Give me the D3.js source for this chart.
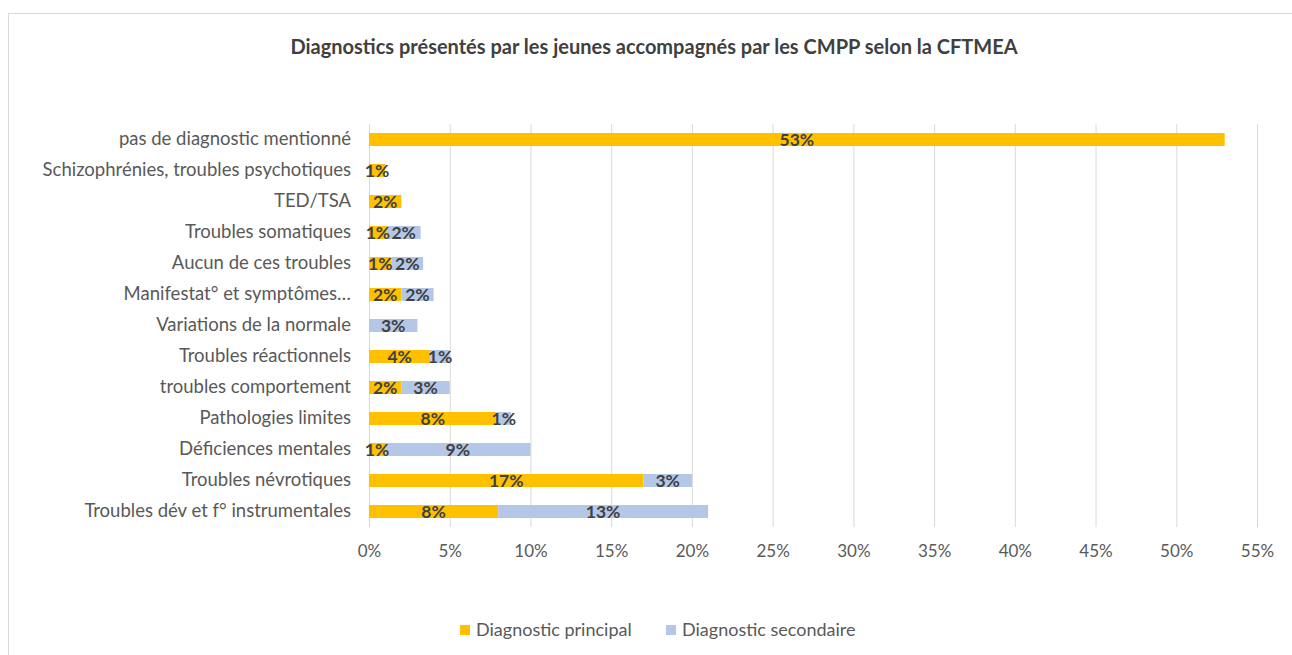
<!DOCTYPE html>
<html>
<head>
<meta charset="utf-8">
<script src="https://cdn.jsdelivr.net/npm/d3@7"></script>
<style>
  body { margin: 0; background: #fff; }
  svg { display: block; font-family: Lato, "Open Sans", sans-serif; }
</style>
</head>
<body>
<svg id="chart" width="1292" height="655"></svg>
<script>
// categories, top to bottom
const categories = [
  "pas de diagnostic mentionné",
  "Schizophrénies, troubles psychotiques",
  "TED/TSA",
  "Troubles somatiques",
  "Aucun de ces troubles",
  "Manifestat° et symptômes…",
  "Variations de la normale",
  "Troubles réactionnels",
  "troubles comportement",
  "Pathologies limites",
  "Déficiences mentales",
  "Troubles névrotiques",
  "Troubles dév et f° instrumentales"
];
// values in %
const principal = [53, 1.0, 2.0, 1.1, 1.4, 2.0, 0, 3.8, 2.0, 7.9, 1.0, 17.0, 8.0];
const secondaire = [0, 0, 0, 2.1, 1.95, 2.0, 3.0, 1.2, 3.0, 0.9, 9.0, 3.0, 13.0];
const seriesNames = ["Diagnostic principal", "Diagnostic secondaire"];
const seriesColors = ["#FFC000", "#B4C7E7"];
const xTicks = [0, 5, 10, 15, 20, 25, 30, 35, 40, 45, 50, 55];

const svg = d3.select("#chart");

// outer chart border
svg.append("rect")
  .attr("x", 8.5).attr("y", 13.5)
  .attr("width", 1300).attr("height", 660)
  .attr("fill", "#fff")
  .attr("stroke", "#d9d9d9");

const plotLeft = 369, plotRight = 1257, plotTop = 124, plotBottom = 527;

const x = d3.scaleLinear().domain([0, 55]).range([plotLeft, plotRight]);
const y = d3.scaleBand().domain(categories).range([plotTop, plotBottom]).paddingInner(0.58).paddingOuter(0.29);

// gridlines
svg.append("g")
  .selectAll("line")
  .data(xTicks)
  .join("line")
  .attr("x1", d => x(d) + 0.5).attr("x2", d => x(d) + 0.5)
  .attr("y1", plotTop).attr("y2", plotBottom)
  .attr("stroke", "#d9d9d9")
  .attr("stroke-width", 1);

// x axis labels
const xAxis = d3.axisBottom(x).tickValues(xTicks).tickSize(0).tickFormat(d => d + "%");
svg.append("g")
  .attr("transform", `translate(0,${plotBottom + 15})`)
  .call(xAxis)
  .call(g => g.select(".domain").remove())
  .selectAll("text")
  .attr("fill", "#595959")
  .attr("font-size", "17px")
  .attr("font-family", "Lato, sans-serif");

// y axis labels
const yAxis = d3.axisLeft(y).tickSize(0).tickPadding(18);
svg.append("g")
  .attr("transform", `translate(${plotLeft},0)`)
  .call(yAxis)
  .call(g => g.select(".domain").remove())
  .selectAll("text")
  .attr("fill", "#595959")
  .attr("font-size", "18.5px")
  .attr("font-family", "Lato, sans-serif");

// stacked data
const rows = categories.map((c, i) => ({ cat: c, p: principal[i], s: secondaire[i] }));
const stack = d3.stack().keys(["p", "s"])(rows);

const layers = svg.append("g")
  .selectAll("g")
  .data(stack)
  .join("g")
  .attr("fill", (d, i) => seriesColors[i]);

layers.selectAll("rect")
  .data(d => d)
  .join("rect")
  .attr("x", d => x(d[0]))
  .attr("y", d => y(d.data.cat))
  .attr("width", d => x(d[1]) - x(d[0]))
  .attr("height", y.bandwidth());

// data labels
const labels = svg.append("g");
stack.forEach(layer => {
  layer.forEach(d => {
    const v = d[1] - d[0];
    if (v <= 0) return;
    labels.append("text")
      .attr("x", x((d[0] + d[1]) / 2))
      .attr("y", y(d.data.cat) + y.bandwidth() / 2)
      .attr("dy", "0.36em")
      .attr("text-anchor", "middle")
      .attr("font-size", "17.5px")
      .attr("font-weight", "bold")
      .attr("fill", "#404040")
      .text(Math.round(v) + "%");
  });
});

// title
svg.append("text")
  .attr("x", 654)
  .attr("y", 54)
  .attr("text-anchor", "middle")
  .attr("font-size", "20px")
  .attr("font-weight", "bold")
  .attr("fill", "#404040")
  .text("Diagnostics présentés par les jeunes accompagnés par les CMPP selon la CFTMEA");

// legend
const legend = svg.append("g").attr("transform", "translate(460,630)");
const legendX = [0, 206];
seriesNames.forEach((name, i) => {
  const g = legend.append("g").attr("transform", `translate(${legendX[i]},0)`);
  g.append("rect").attr("x", 0).attr("y", -5).attr("width", 10).attr("height", 10).attr("fill", seriesColors[i]);
  g.append("text")
    .attr("x", 16).attr("y", 0).attr("dy", "0.36em")
    .attr("font-size", "18px")
    .attr("fill", "#595959")
    .text(name);
});
</script>
</body>
</html>
